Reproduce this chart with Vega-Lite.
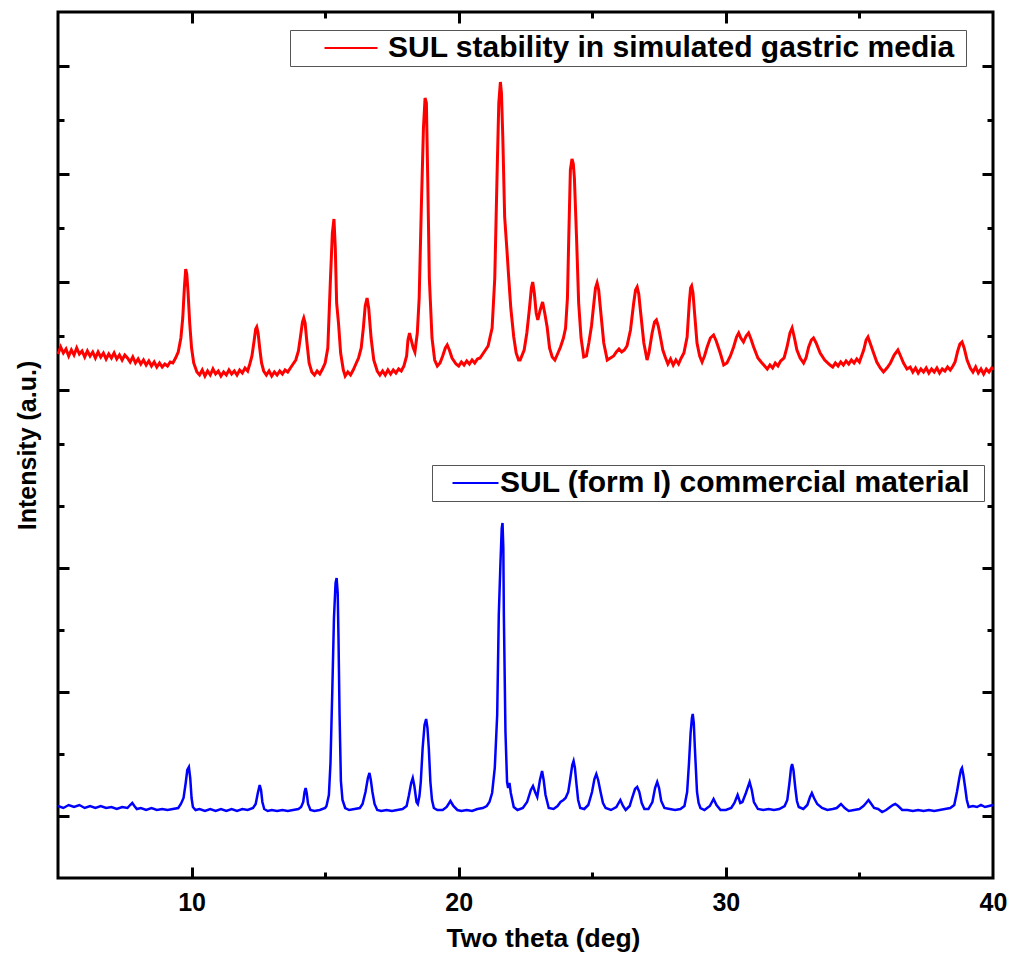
{
  "$schema": "https://vega.github.io/schema/vega-lite/v6.json",
  "width": 935,
  "height": 866,
  "autosize": {"type": "none"},
  "padding": {"left": 58, "top": 12, "right": 21, "bottom": 79},
  "background": "white",
  "config": {
    "view": {"stroke": "black", "strokeWidth": 3},
    "font": "Liberation Sans",
    "axis": {
      "grid": false, "domain": false, "tickColor": "black", "tickWidth": 3,
      "labelFont": "Liberation Sans", "labelFontWeight": "bold", "labelFontSize": 25, "labelColor": "black",
      "titleFont": "Liberation Sans", "titleFontWeight": "bold", "titleFontSize": 25, "titleColor": "black",
      "labelFlush": false, "labelOverlap": false
    },
    "legend": {
      "labelFont": "Liberation Sans", "labelFontWeight": "bold", "labelFontSize": 30, "labelColor": "black",
      "labelLimit": 1000, "strokeColor": "#555555", "fillColor": "white", "padding": 3,
      "titleOrient": "right", "titleFont": "Liberation Sans", "titleColor": "black"
    }
  },
  "datasets": {
    "red": [
      {"t":5.0,"v":524},{"t":5.1,"v":531},{"t":5.2,"v":525},{"t":5.3,"v":529},{"t":5.4,"v":522},{"t":5.5,"v":528},{"t":5.6,"v":523},{"t":5.7,"v":530},{"t":5.8,"v":524},{"t":5.9,"v":527},
      {"t":6.0,"v":521},{"t":6.1,"v":527},{"t":6.2,"v":522},{"t":6.3,"v":526},{"t":6.4,"v":520},{"t":6.5,"v":526},{"t":6.6,"v":521},{"t":6.7,"v":525},{"t":6.8,"v":519},{"t":6.9,"v":524},
      {"t":7.0,"v":520},{"t":7.1,"v":525},{"t":7.2,"v":519},{"t":7.3,"v":523},{"t":7.4,"v":518},{"t":7.5,"v":523},{"t":7.6,"v":520},{"t":7.7,"v":516},{"t":7.8,"v":521},{"t":7.9,"v":515},
      {"t":8.0,"v":519},{"t":8.1,"v":514},{"t":8.2,"v":518},{"t":8.3,"v":513},{"t":8.4,"v":517},{"t":8.5,"v":512},{"t":8.6,"v":516},{"t":8.7,"v":511},{"t":8.8,"v":515},{"t":8.9,"v":511},
      {"t":9.0,"v":514},{"t":9.1,"v":512},{"t":9.2,"v":516},{"t":9.3,"v":515},{"t":9.4,"v":520},
      {"t":9.5,"v":526},{"t":9.6,"v":540},{"t":9.67,"v":560},{"t":9.73,"v":590},{"t":9.78,"v":609},{"t":9.82,"v":604},{"t":9.87,"v":585},{"t":9.93,"v":555},{"t":10.0,"v":530},{"t":10.08,"v":515},{"t":10.2,"v":506},{"t":10.3,"v":503},
      {"t":10.4,"v":508},{"t":10.5,"v":502},{"t":10.6,"v":507},{"t":10.7,"v":503},{"t":10.8,"v":509},{"t":10.9,"v":504},{"t":11.0,"v":507},{"t":11.1,"v":502},{"t":11.2,"v":506},{"t":11.3,"v":503},
      {"t":11.4,"v":508},{"t":11.5,"v":504},{"t":11.6,"v":507},{"t":11.7,"v":503},{"t":11.8,"v":508},{"t":11.9,"v":505},{"t":12.0,"v":510},{"t":12.1,"v":507},
      {"t":12.18,"v":514},{"t":12.26,"v":522},{"t":12.34,"v":537},{"t":12.4,"v":549},{"t":12.44,"v":551},{"t":12.49,"v":545},{"t":12.55,"v":530},{"t":12.62,"v":515},{"t":12.7,"v":507},
      {"t":12.8,"v":503},{"t":12.9,"v":507},{"t":13.0,"v":502},{"t":13.1,"v":506},{"t":13.2,"v":503},{"t":13.3,"v":507},{"t":13.4,"v":504},{"t":13.5,"v":508},{"t":13.6,"v":506},{"t":13.7,"v":510},{"t":13.8,"v":514},
      {"t":13.9,"v":518},{"t":14.0,"v":527},{"t":14.08,"v":542},{"t":14.15,"v":556},{"t":14.2,"v":560},{"t":14.25,"v":555},{"t":14.32,"v":535},{"t":14.4,"v":515},{"t":14.5,"v":506},
      {"t":14.6,"v":503},{"t":14.7,"v":507},{"t":14.8,"v":504},{"t":14.9,"v":509},{"t":15.0,"v":515},
      {"t":15.1,"v":530},{"t":15.2,"v":600},{"t":15.27,"v":645},{"t":15.33,"v":659},{"t":15.38,"v":630},{"t":15.43,"v":575},{"t":15.5,"v":555},{"t":15.58,"v":525},{"t":15.68,"v":508},
      {"t":15.75,"v":502},{"t":15.85,"v":506},{"t":15.95,"v":503},{"t":16.05,"v":508},{"t":16.15,"v":514},
      {"t":16.25,"v":520},{"t":16.35,"v":530},{"t":16.43,"v":550},{"t":16.5,"v":572},{"t":16.57,"v":580},{"t":16.63,"v":570},{"t":16.72,"v":540},{"t":16.82,"v":518},{"t":16.95,"v":507},
      {"t":17.05,"v":503},{"t":17.15,"v":507},{"t":17.25,"v":503},{"t":17.35,"v":508},{"t":17.45,"v":504},{"t":17.55,"v":508},{"t":17.65,"v":505},{"t":17.75,"v":509},{"t":17.85,"v":507},{"t":17.95,"v":512},{"t":18.05,"v":522},
      {"t":18.1,"v":538},{"t":18.16,"v":545},{"t":18.22,"v":538},{"t":18.3,"v":530},{"t":18.36,"v":526},
      {"t":18.45,"v":545},{"t":18.52,"v":580},{"t":18.6,"v":670},{"t":18.68,"v":750},{"t":18.74,"v":780},{"t":18.79,"v":775},{"t":18.84,"v":700},{"t":18.9,"v":600},{"t":19.0,"v":540},{"t":19.1,"v":518},{"t":19.2,"v":512},
      {"t":19.3,"v":515},{"t":19.4,"v":522},{"t":19.5,"v":530},{"t":19.57,"v":533},{"t":19.65,"v":528},{"t":19.75,"v":520},{"t":19.9,"v":514},
      {"t":20.0,"v":512},{"t":20.1,"v":516},{"t":20.2,"v":513},{"t":20.3,"v":517},{"t":20.4,"v":514},{"t":20.5,"v":518},{"t":20.6,"v":515},{"t":20.7,"v":519},{"t":20.8,"v":520},{"t":20.9,"v":524},{"t":21.0,"v":528},
      {"t":21.1,"v":532},{"t":21.25,"v":550},{"t":21.35,"v":600},{"t":21.44,"v":708},{"t":21.5,"v":775},{"t":21.56,"v":796},{"t":21.6,"v":785},{"t":21.65,"v":741},{"t":21.72,"v":661},{"t":21.8,"v":630},{"t":21.87,"v":601},{"t":21.95,"v":570},{"t":22.06,"v":541},{"t":22.15,"v":525},{"t":22.24,"v":518},
      {"t":22.3,"v":518},{"t":22.45,"v":528},{"t":22.55,"v":545},{"t":22.65,"v":570},{"t":22.72,"v":590},{"t":22.77,"v":596},{"t":22.83,"v":585},{"t":22.9,"v":565},{"t":22.96,"v":558},{"t":23.05,"v":568},{"t":23.14,"v":576},{"t":23.22,"v":565},{"t":23.31,"v":551},{"t":23.4,"v":530},{"t":23.5,"v":521},
      {"t":23.6,"v":518},{"t":23.7,"v":524},{"t":23.81,"v":531},{"t":23.92,"v":540},{"t":24.0,"v":550},{"t":24.07,"v":580},{"t":24.12,"v":641},{"t":24.18,"v":708},{"t":24.24,"v":719},{"t":24.29,"v":714},{"t":24.33,"v":700},{"t":24.41,"v":641},{"t":24.49,"v":575},{"t":24.58,"v":540},{"t":24.68,"v":521},
      {"t":24.78,"v":522},{"t":24.87,"v":535},{"t":24.97,"v":552},{"t":25.06,"v":575},{"t":25.12,"v":590},{"t":25.18,"v":595},{"t":25.24,"v":588},{"t":25.31,"v":568},{"t":25.43,"v":535},{"t":25.56,"v":518},
      {"t":25.68,"v":520},{"t":25.8,"v":522},{"t":25.9,"v":526},{"t":26.0,"v":529},{"t":26.1,"v":526},{"t":26.2,"v":528},{"t":26.3,"v":532},
      {"t":26.43,"v":548},{"t":26.55,"v":575},{"t":26.62,"v":588},{"t":26.68,"v":591},{"t":26.74,"v":584},{"t":26.8,"v":568},{"t":26.93,"v":535},{"t":27.05,"v":518},
      {"t":27.12,"v":525},{"t":27.24,"v":545},{"t":27.33,"v":556},{"t":27.4,"v":558},{"t":27.47,"v":552},{"t":27.55,"v":541},{"t":27.64,"v":528},{"t":27.73,"v":521},
      {"t":27.83,"v":514},{"t":27.93,"v":519},{"t":28.03,"v":513},{"t":28.13,"v":518},{"t":28.23,"v":514},{"t":28.33,"v":520},
      {"t":28.43,"v":525},{"t":28.55,"v":541},{"t":28.63,"v":575},{"t":28.68,"v":590},{"t":28.72,"v":592},{"t":28.77,"v":585},{"t":28.82,"v":568},{"t":28.92,"v":535},{"t":29.02,"v":522},{"t":29.11,"v":516},
      {"t":29.2,"v":522},{"t":29.3,"v":531},{"t":29.42,"v":540},{"t":29.54,"v":543},{"t":29.64,"v":537},{"t":29.79,"v":525},{"t":29.92,"v":513},
      {"t":30.04,"v":515},{"t":30.17,"v":522},{"t":30.29,"v":531},{"t":30.4,"v":541},{"t":30.48,"v":545},{"t":30.56,"v":540},{"t":30.66,"v":536},{"t":30.76,"v":542},{"t":30.85,"v":545},{"t":30.94,"v":539},{"t":31.04,"v":531},{"t":31.2,"v":520},{"t":31.32,"v":516},{"t":31.42,"v":513},
      {"t":31.55,"v":509},{"t":31.65,"v":513},{"t":31.75,"v":510},{"t":31.85,"v":515},{"t":31.95,"v":512},{"t":32.05,"v":517},
      {"t":32.18,"v":520},{"t":32.29,"v":531},{"t":32.4,"v":545},{"t":32.48,"v":550},{"t":32.56,"v":541},{"t":32.66,"v":528},{"t":32.78,"v":520},{"t":32.91,"v":515},
      {"t":33.0,"v":520},{"t":33.1,"v":531},{"t":33.2,"v":538},{"t":33.28,"v":540},{"t":33.38,"v":535},{"t":33.53,"v":525},{"t":33.7,"v":518},{"t":33.9,"v":513},
      {"t":34.0,"v":511},{"t":34.1,"v":515},{"t":34.2,"v":512},{"t":34.3,"v":516},{"t":34.4,"v":513},{"t":34.5,"v":517},{"t":34.6,"v":514},{"t":34.7,"v":518},{"t":34.8,"v":515},{"t":34.9,"v":519},{"t":35.0,"v":516},{"t":35.08,"v":522},
      {"t":35.16,"v":528},{"t":35.25,"v":538},{"t":35.32,"v":541},{"t":35.4,"v":535},{"t":35.53,"v":525},{"t":35.65,"v":516},{"t":35.78,"v":510},{"t":35.9,"v":506},
      {"t":36.03,"v":510},{"t":36.16,"v":515},{"t":36.3,"v":523},{"t":36.44,"v":528},{"t":36.54,"v":522},{"t":36.65,"v":515},{"t":36.78,"v":509},{"t":36.9,"v":511},
      {"t":37.0,"v":506},{"t":37.1,"v":510},{"t":37.2,"v":505},{"t":37.3,"v":509},{"t":37.4,"v":506},{"t":37.5,"v":510},{"t":37.6,"v":505},{"t":37.7,"v":509},{"t":37.8,"v":506},{"t":37.9,"v":510},{"t":38.0,"v":505},{"t":38.1,"v":509},{"t":38.2,"v":507},{"t":38.3,"v":511},{"t":38.4,"v":508},{"t":38.5,"v":512},
      {"t":38.58,"v":516},{"t":38.68,"v":527},{"t":38.76,"v":534},{"t":38.84,"v":536},{"t":38.92,"v":530},{"t":39.03,"v":518},{"t":39.15,"v":510},
      {"t":39.25,"v":506},{"t":39.35,"v":511},{"t":39.45,"v":505},{"t":39.55,"v":509},{"t":39.65,"v":504},{"t":39.75,"v":509},{"t":39.85,"v":506},{"t":39.95,"v":510},{"t":40.0,"v":508}
    ],
    "blue": [
      {"t":5.0,"v":72},{"t":5.2,"v":70},{"t":5.4,"v":73},{"t":5.6,"v":71},{"t":5.8,"v":73},{"t":6.0,"v":70},{"t":6.2,"v":72},{"t":6.4,"v":70},{"t":6.6,"v":72},{"t":6.8,"v":70},
      {"t":7.0,"v":71},{"t":7.2,"v":69},{"t":7.4,"v":71},{"t":7.6,"v":70},{"t":7.7,"v":73},{"t":7.78,"v":75},{"t":7.86,"v":72},{"t":7.95,"v":69},{"t":8.1,"v":70},{"t":8.3,"v":68},
      {"t":8.5,"v":70},{"t":8.7,"v":68},{"t":8.9,"v":69},{"t":9.1,"v":68},{"t":9.3,"v":69},{"t":9.5,"v":70},
      {"t":9.6,"v":74},{"t":9.7,"v":80},{"t":9.78,"v":95},{"t":9.84,"v":108},{"t":9.9,"v":111},{"t":9.95,"v":100},{"t":10.0,"v":80},{"t":10.05,"v":71},{"t":10.15,"v":68},
      {"t":10.3,"v":69},{"t":10.5,"v":67},{"t":10.7,"v":69},{"t":10.9,"v":67},{"t":11.1,"v":69},{"t":11.3,"v":67},{"t":11.5,"v":69},{"t":11.7,"v":67},{"t":11.9,"v":69},{"t":12.1,"v":68},{"t":12.3,"v":70},
      {"t":12.4,"v":74},{"t":12.48,"v":85},{"t":12.55,"v":93},{"t":12.6,"v":88},{"t":12.65,"v":76},{"t":12.72,"v":69},{"t":12.85,"v":67},
      {"t":13.0,"v":68},{"t":13.2,"v":67},{"t":13.4,"v":68},{"t":13.6,"v":67},{"t":13.8,"v":68},{"t":14.0,"v":69},{"t":14.1,"v":71},
      {"t":14.18,"v":76},{"t":14.23,"v":86},{"t":14.27,"v":90},{"t":14.31,"v":85},{"t":14.36,"v":74},{"t":14.45,"v":68},
      {"t":14.6,"v":67},{"t":14.8,"v":68},{"t":15.0,"v":70},
      {"t":15.05,"v":72},{"t":15.14,"v":83},{"t":15.2,"v":115},{"t":15.27,"v":190},{"t":15.33,"v":260},{"t":15.39,"v":295},{"t":15.43,"v":300},{"t":15.47,"v":285},{"t":15.5,"v":240},{"t":15.54,"v":163},{"t":15.59,"v":97},{"t":15.65,"v":78},{"t":15.75,"v":70},
      {"t":15.9,"v":68},{"t":16.1,"v":69},{"t":16.3,"v":70},
      {"t":16.4,"v":74},{"t":16.51,"v":86},{"t":16.6,"v":100},{"t":16.66,"v":105},{"t":16.71,"v":98},{"t":16.77,"v":86},{"t":16.85,"v":74},{"t":16.95,"v":68},
      {"t":17.1,"v":67},{"t":17.3,"v":68},{"t":17.5,"v":67},{"t":17.7,"v":68},{"t":17.9,"v":69},{"t":18.05,"v":72},
      {"t":18.13,"v":82},{"t":18.22,"v":95},{"t":18.28,"v":100},{"t":18.34,"v":92},{"t":18.42,"v":76},{"t":18.47,"v":74},
      {"t":18.53,"v":82},{"t":18.58,"v":96},{"t":18.65,"v":130},{"t":18.72,"v":153},{"t":18.78,"v":159},{"t":18.83,"v":150},{"t":18.88,"v":130},{"t":18.94,"v":96},{"t":19.0,"v":78},{"t":19.07,"v":70},
      {"t":19.2,"v":68},{"t":19.4,"v":68},{"t":19.55,"v":71},{"t":19.69,"v":77},{"t":19.8,"v":72},{"t":19.95,"v":68},
      {"t":20.1,"v":67},{"t":20.3,"v":68},{"t":20.5,"v":67},{"t":20.7,"v":69},{"t":20.9,"v":70},{"t":21.05,"v":72},
      {"t":21.15,"v":76},{"t":21.25,"v":85},{"t":21.35,"v":110},{"t":21.44,"v":163},{"t":21.5,"v":263},{"t":21.56,"v":313},{"t":21.61,"v":350},{"t":21.64,"v":355},{"t":21.67,"v":330},{"t":21.69,"v":263},{"t":21.75,"v":146},{"t":21.81,"v":96},{"t":21.85,"v":90},{"t":21.9,"v":95},{"t":21.95,"v":85},{"t":22.06,"v":71},
      {"t":22.2,"v":68},{"t":22.4,"v":70},{"t":22.56,"v":76},{"t":22.7,"v":88},{"t":22.78,"v":92},{"t":22.86,"v":86},{"t":22.94,"v":81},{"t":23.04,"v":98},{"t":23.12,"v":107},{"t":23.18,"v":98},{"t":23.25,"v":83},{"t":23.37,"v":70},
      {"t":23.55,"v":69},{"t":23.7,"v":72},{"t":23.81,"v":76},{"t":23.92,"v":78},{"t":24.0,"v":80},{"t":24.1,"v":86},{"t":24.18,"v":100},{"t":24.25,"v":113},{"t":24.3,"v":117},{"t":24.35,"v":110},{"t":24.4,"v":96},{"t":24.47,"v":78},{"t":24.55,"v":70},
      {"t":24.7,"v":69},{"t":24.85,"v":73},{"t":24.99,"v":86},{"t":25.08,"v":99},{"t":25.15,"v":104},{"t":25.22,"v":98},{"t":25.31,"v":86},{"t":25.4,"v":75},{"t":25.5,"v":70},
      {"t":25.7,"v":68},{"t":25.9,"v":71},{"t":26.05,"v":78},{"t":26.15,"v":72},{"t":26.25,"v":68},
      {"t":26.4,"v":72},{"t":26.49,"v":80},{"t":26.6,"v":89},{"t":26.68,"v":91},{"t":26.76,"v":86},{"t":26.85,"v":75},{"t":26.95,"v":69},
      {"t":27.1,"v":69},{"t":27.25,"v":76},{"t":27.35,"v":90},{"t":27.43,"v":96},{"t":27.5,"v":90},{"t":27.58,"v":77},{"t":27.7,"v":70},
      {"t":27.9,"v":69},{"t":28.1,"v":68},{"t":28.3,"v":69},{"t":28.45,"v":72},
      {"t":28.55,"v":86},{"t":28.62,"v":115},{"t":28.68,"v":145},{"t":28.73,"v":160},{"t":28.76,"v":164},{"t":28.8,"v":155},{"t":28.84,"v":130},{"t":28.92,"v":86},{"t":28.98,"v":75},{"t":29.05,"v":70},
      {"t":29.2,"v":68},{"t":29.4,"v":72},{"t":29.54,"v":79},{"t":29.65,"v":73},{"t":29.8,"v":68},
      {"t":30.0,"v":68},{"t":30.2,"v":70},{"t":30.32,"v":75},{"t":30.44,"v":83},{"t":30.54,"v":75},{"t":30.62,"v":76},{"t":30.75,"v":85},{"t":30.89,"v":96},{"t":30.97,"v":88},{"t":31.05,"v":76},{"t":31.2,"v":69},
      {"t":31.4,"v":68},{"t":31.6,"v":69},{"t":31.8,"v":68},{"t":32.0,"v":69},{"t":32.2,"v":72},
      {"t":32.3,"v":78},{"t":32.38,"v":95},{"t":32.44,"v":110},{"t":32.48,"v":114},{"t":32.53,"v":108},{"t":32.6,"v":90},{"t":32.66,"v":77},{"t":32.73,"v":71},
      {"t":32.9,"v":69},{"t":33.05,"v":73},{"t":33.15,"v":81},{"t":33.22,"v":85},{"t":33.3,"v":80},{"t":33.42,"v":74},{"t":33.6,"v":70},
      {"t":33.8,"v":68},{"t":34.0,"v":69},{"t":34.15,"v":70},{"t":34.31,"v":74},{"t":34.45,"v":70},{"t":34.6,"v":67},{"t":34.8,"v":68},{"t":35.0,"v":69},{"t":35.15,"v":72},
      {"t":35.25,"v":75},{"t":35.34,"v":78},{"t":35.42,"v":75},{"t":35.55,"v":70},{"t":35.7,"v":69},{"t":35.85,"v":66},{"t":36.0,"v":68},{"t":36.15,"v":71},
      {"t":36.25,"v":73},{"t":36.34,"v":74},{"t":36.45,"v":72},{"t":36.6,"v":68},
      {"t":36.8,"v":68},{"t":37.0,"v":67},{"t":37.2,"v":68},{"t":37.4,"v":67},{"t":37.6,"v":68},{"t":37.8,"v":67},{"t":38.0,"v":68},{"t":38.2,"v":69},{"t":38.4,"v":70},{"t":38.55,"v":73},
      {"t":38.65,"v":86},{"t":38.74,"v":100},{"t":38.8,"v":108},{"t":38.84,"v":110},{"t":38.89,"v":103},{"t":38.96,"v":90},{"t":39.02,"v":78},{"t":39.09,"v":71},
      {"t":39.25,"v":72},{"t":39.4,"v":71},{"t":39.55,"v":73},{"t":39.7,"v":71},{"t":39.85,"v":72},{"t":40.0,"v":73}
    ]
  },
  "layer": [
    {
      "data": {"name": "red"},
      "mark": {"type": "line", "strokeWidth": 3},
      "encoding": {
        "x": {"field": "t", "type": "quantitative", "scale": {"domain": [5, 40], "nice": false, "zero": false},
              "axis": {"orient": "bottom", "values": [10, 20, 30, 40], "ticks": false, "format": "d", "labelPadding": 12, "title": "Two theta (deg)", "titlePadding": 10, "titleFontSize": 26.5, "titleX": 485}},
        "y": {"field": "v", "type": "quantitative", "scale": {"domain": [0, 866], "nice": false, "zero": false},
              "axis": {"orient": "left", "values": [812, 704, 596, 488, 310, 186, 62], "tickSize": -11, "labels": false, "title": "Intensity (a.u.)", "titlePadding": 16}},
        "color": {"datum": "SUL stability in simulated gastric media", "type": "nominal", "scale": {"range": ["#ff0000"]},
                  "legend": {"title": "\u2003", "titleFontSize": 10, "titlePadding": 8, "orient": "none", "legendX": 232, "legendY": 18,
                             "symbolType": "M-2.524,0H2.524", "symbolSize": 441, "symbolStrokeWidth": 2, "symbolOffset": 43, "labelOffset": 22}}
      }
    },
    {
      "data": {"name": "blue"},
      "mark": {"type": "line", "strokeWidth": 2.5},
      "encoding": {
        "x": {"field": "t", "type": "quantitative", "scale": {"domain": [5, 40], "nice": false, "zero": false},
              "axis": {"orient": "bottom", "values": [10, 20, 30], "tickSize": -11, "labels": false, "title": null}},
        "y": {"field": "v", "type": "quantitative", "scale": {"domain": [0, 866], "nice": false, "zero": false},
              "axis": {"orient": "left", "values": [758, 650, 542, 434, 372, 248, 124], "tickSize": -6, "labels": false, "title": null}},
        "color": {"datum": "SUL (form I) commercial material", "type": "nominal", "scale": {"range": ["#0000ff"]},
                  "legend": {"title": "\u2003", "titleFontSize": 8, "titlePadding": 11, "orient": "none", "legendX": 374, "legendY": 453,
                             "symbolType": "M-2.19,0H2.19", "symbolSize": 441, "symbolStrokeWidth": 2, "symbolOffset": 25.5, "labelOffset": 9.5}}
      }
    },
    {
      "data": {"name": "red"},
      "mark": {"type": "line", "opacity": 0},
      "encoding": {
        "x": {"field": "t", "type": "quantitative", "scale": {"domain": [5, 40], "nice": false, "zero": false},
              "axis": {"orient": "bottom", "values": [15, 25, 35], "tickSize": -6, "labels": false, "title": null}},
        "y": {"field": "v", "type": "quantitative", "scale": {"domain": [0, 866], "nice": false, "zero": false},
              "axis": {"orient": "right", "values": [812, 704, 596, 488, 310, 186, 62], "tickSize": -11, "labels": false, "title": null}}
      }
    },
    {
      "data": {"name": "red"},
      "mark": {"type": "line", "opacity": 0},
      "encoding": {
        "x": {"field": "t", "type": "quantitative", "scale": {"domain": [5, 40], "nice": false, "zero": false},
              "axis": {"orient": "top", "values": [10, 20, 30], "tickSize": -11, "labels": false, "title": null}},
        "y": {"field": "v", "type": "quantitative", "scale": {"domain": [0, 866], "nice": false, "zero": false},
              "axis": {"orient": "right", "values": [758, 650, 542, 434, 372, 248, 124], "tickSize": -6, "labels": false, "title": null}}
      }
    },
    {
      "data": {"name": "red"},
      "mark": {"type": "line", "opacity": 0},
      "encoding": {
        "x": {"field": "t", "type": "quantitative", "scale": {"domain": [5, 40], "nice": false, "zero": false},
              "axis": {"orient": "top", "values": [15, 25, 35], "tickSize": -6, "labels": false, "title": null}},
        "y": {"field": "v", "type": "quantitative", "scale": {"domain": [0, 866], "nice": false, "zero": false}, "axis": null}
      }
    }
  ],
  "resolve": {"scale": {"color": "independent"}, "axis": {"x": "independent", "y": "independent"}}
}
